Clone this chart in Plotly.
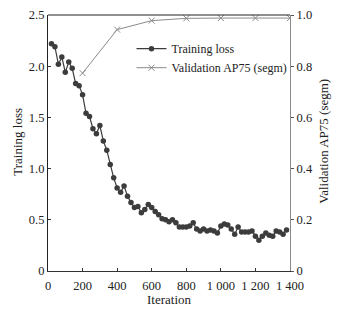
import plotly.graph_objects as go

iterations = list(range(20, 1400, 20))
training_loss = [2.22, 2.19, 2.02, 2.09, 1.94, 2.04, 1.98, 1.83, 1.81, 1.72,
                 1.54, 1.51, 1.39, 1.34, 1.42, 1.27, 1.18, 1.04, 0.91, 0.81,
                 0.77, 0.83, 0.73, 0.67, 0.62, 0.63, 0.57, 0.60, 0.65, 0.62,
                 0.58, 0.55, 0.51, 0.50, 0.48, 0.50, 0.47, 0.43, 0.43, 0.43,
                 0.44, 0.47, 0.41, 0.39, 0.41, 0.39, 0.40, 0.39, 0.37, 0.44,
                 0.46, 0.45, 0.41, 0.36, 0.43, 0.38, 0.38, 0.38, 0.39, 0.34,
                 0.30, 0.34, 0.37, 0.35, 0.34, 0.39, 0.38, 0.36, 0.40]
val_iterations = [200, 400, 600, 800, 1000, 1200, 1400]
val_ap75 = [0.773, 0.943, 0.978, 0.987, 0.988, 0.988, 0.988]

x_tickvals = [0, 200, 400, 600, 800, 1000, 1200, 1400]
x_ticktext = ["0", "200", "400", "600", "800", "1 000", "1 200", "1 400"]
y1_tickvals = [0, 0.5, 1.0, 1.5, 2.0, 2.5]
y1_ticktext = ["0", "0.5", "1.0", "1.5", "2.0", "2.5"]
y2_tickvals = [0, 0.2, 0.4, 0.6, 0.8, 1.0]
y2_ticktext = ["0", "0.2", "0.4", "0.6", "0.8", "1.0"]

font_family = "Liberation Serif, Times New Roman, serif"

# page body has an 8px default margin; compensate so the screenshot matches
OFF = 8
W, H = 343 - OFF, 311 - OFF
ML, MT = 48 - OFF, 15 - OFF
MR = W - (290 - OFF)
MB = H - (271.5 - OFF)
PW = W - ML - MR
PH = H - MT - MB

fig = go.Figure()
fig.add_trace(go.Scatter(
    x=iterations, y=training_loss, name="Training loss", mode="lines+markers",
    line=dict(color="#3c3c3c", width=1.2),
    marker=dict(symbol="circle", size=5.5, color="#3c3c3c"),
    yaxis="y"))
fig.add_trace(go.Scatter(
    x=val_iterations, y=val_ap75, name="Validation AP75 (segm)", mode="lines+markers",
    line=dict(color="#8a8a8a", width=1),
    marker=dict(symbol="x-thin-open", size=6, color="#8a8a8a", line=dict(width=1, color="#8a8a8a")),
    yaxis="y2"))

def px_x(px):
    return (px - OFF - ML) / PW

def px_y(py):
    return (H - MB - (py - OFF)) / PH

fig.update_layout(
    width=W, height=H,
    margin=dict(l=ML, r=MR, t=MT, b=MB),
    paper_bgcolor="white", plot_bgcolor="white",
    font=dict(family=font_family, size=13, color="#222"),
    showlegend=True,
    legend=dict(x=0.345, y=0.925, xanchor="left", yanchor="top",
                bgcolor="rgba(0,0,0,0)", font=dict(size=12, family=font_family),
                itemwidth=30, tracegroupgap=0),
    xaxis=dict(range=[0, 1400], tickvals=x_tickvals, ticktext=x_ticktext,
               showgrid=False, zeroline=False, showline=True, linecolor="#333",
               linewidth=1.2, ticks="inside", ticklen=3, tickcolor="#333",
               automargin=False, tickfont=dict(size=12.5), ticklabeloverflow="allow",
               ticklabelstandoff=3),
    yaxis=dict(range=[0, 2.5], tickvals=y1_tickvals, ticktext=y1_ticktext,
               showgrid=False, zeroline=False, showline=True, linecolor="#222",
               linewidth=1.2, ticks="inside", ticklen=3, tickcolor="#333",
               automargin=False, tickfont=dict(size=12.5), ticklabeloverflow="allow"),
    yaxis2=dict(range=[0, 1.0], tickvals=y2_tickvals, ticktext=y2_ticktext,
                overlaying="y", side="right",
                showgrid=False, zeroline=False, showline=True, linecolor="#8a8a8a",
                linewidth=1.2, ticks="outside", ticklen=3, tickcolor="#555",
                automargin=False, tickfont=dict(size=12.5), ticklabeloverflow="allow"),
    shapes=[dict(type="line", xref="paper", yref="paper", x0=0, x1=1, y0=1, y1=1,
                 line=dict(color="#222", width=1.2))],
    annotations=[
        dict(text="Training loss", xref="paper", yref="paper", x=px_x(18), y=px_y(142),
             xanchor="center", yanchor="middle", textangle=-90, showarrow=False,
             font=dict(size=13, family=font_family)),
        dict(text="Validation AP75 (segm)", xref="paper", yref="paper", x=px_x(324), y=px_y(142),
             xanchor="center", yanchor="middle", textangle=-90, showarrow=False,
             font=dict(size=13, family=font_family)),
        dict(text="Iteration", xref="paper", yref="paper", x=px_x(169), y=px_y(300),
             xanchor="center", yanchor="middle", showarrow=False,
             font=dict(size=13, family=font_family)),
    ],
)

fig.write_html("out.html")
